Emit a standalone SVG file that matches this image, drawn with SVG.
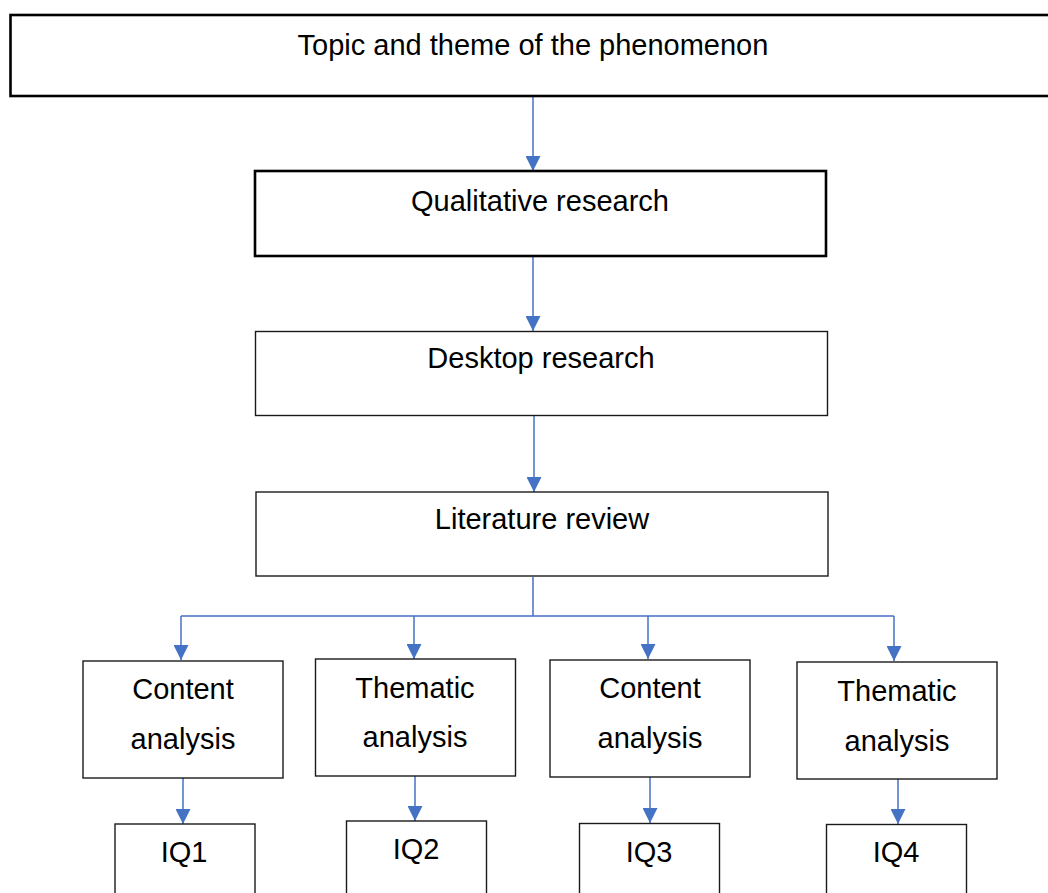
<svg xmlns="http://www.w3.org/2000/svg" width="1048" height="893" viewBox="0 0 1048 893">
<style>
  .box{fill:#fff;stroke:#1a1a1a;stroke-width:1.4}
  .thick{fill:#fff;stroke:#000;stroke-width:2.6}
  .lbl{font-family:"Liberation Sans",Arial,sans-serif;font-size:29px;fill:#000;text-anchor:middle}
  .conn{fill:none;stroke:#4472C4;stroke-width:1.5}
</style>
<defs>
  <marker id="arr" markerUnits="userSpaceOnUse" markerWidth="15" markerHeight="15" refX="15" refY="7.5" orient="auto" viewBox="0 0 15 15">
    <path d="M0,0 L15,7.5 L0,15 z" fill="#4472C4"/>
  </marker>
</defs>
<rect width="1048" height="893" fill="#fff"/>
<g id="connectors">
  <path class="conn" d="M533,96 V171" marker-end="url(#arr)"/>
  <path class="conn" d="M533,256 V331" marker-end="url(#arr)"/>
  <path class="conn" d="M534,416 V492" marker-end="url(#arr)"/>
  <path class="conn" d="M533,577 V616 M181,616 H894"/>
  <path class="conn" d="M181,616 V660" marker-end="url(#arr)"/>
  <path class="conn" d="M414,616 V659" marker-end="url(#arr)"/>
  <path class="conn" d="M648,616 V659" marker-end="url(#arr)"/>
  <path class="conn" d="M894,616 V661" marker-end="url(#arr)"/>
  <path class="conn" d="M183,778 V824" marker-end="url(#arr)"/>
  <path class="conn" d="M415,776 V821" marker-end="url(#arr)"/>
  <path class="conn" d="M650,777 V823" marker-end="url(#arr)"/>
  <path class="conn" d="M898,779 V824" marker-end="url(#arr)"/>
</g>
<g id="topic">
  <rect class="thick" x="10.5" y="15" width="1046" height="81"/>
  <text class="lbl" x="533" y="55">Topic and theme of the phenomenon</text>
</g>
<g id="qualitative">
  <rect class="thick" x="255" y="171" width="571" height="85"/>
  <text class="lbl" x="540" y="211">Qualitative research</text>
</g>
<g id="desktop">
  <rect class="box" x="255.5" y="331.5" width="572" height="84"/>
  <text class="lbl" x="541" y="368">Desktop research</text>
</g>
<g id="literature">
  <rect class="box" x="256" y="492" width="572" height="84"/>
  <text class="lbl" x="542" y="529">Literature review</text>
</g>
<g id="content1">
  <rect class="box" x="83" y="661" width="200" height="117"/>
  <text class="lbl" x="183" y="699">Content</text>
  <text class="lbl" x="183" y="749">analysis</text>
</g>
<g id="thematic1">
  <rect class="box" x="315.5" y="659" width="200" height="117"/>
  <text class="lbl" x="415" y="698">Thematic</text>
  <text class="lbl" x="415" y="747">analysis</text>
</g>
<g id="content2">
  <rect class="box" x="550" y="660" width="200" height="117"/>
  <text class="lbl" x="650" y="698">Content</text>
  <text class="lbl" x="650" y="748">analysis</text>
</g>
<g id="thematic2">
  <rect class="box" x="797" y="662" width="200" height="117"/>
  <text class="lbl" x="897" y="701">Thematic</text>
  <text class="lbl" x="897" y="751">analysis</text>
</g>
<g id="iq1">
  <rect class="box" x="115" y="824" width="140" height="80"/>
  <text class="lbl" x="184" y="862">IQ1</text>
</g>
<g id="iq2">
  <rect class="box" x="346.5" y="821" width="140" height="80"/>
  <text class="lbl" x="416" y="859">IQ2</text>
</g>
<g id="iq3">
  <rect class="box" x="579.5" y="823.5" width="140" height="80"/>
  <text class="lbl" x="649" y="862">IQ3</text>
</g>
<g id="iq4">
  <rect class="box" x="826.5" y="824.5" width="140" height="80"/>
  <text class="lbl" x="896" y="862">IQ4</text>
</g>
</svg>
